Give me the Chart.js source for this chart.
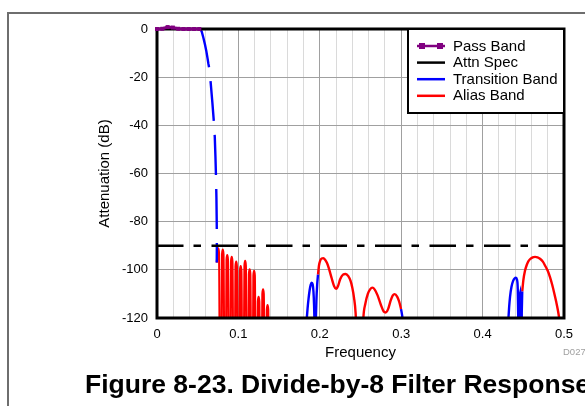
<!DOCTYPE html>
<html><head><meta charset="utf-8">
<script src="https://cdn.jsdelivr.net/npm/chart.js@4.4.1/dist/chart.umd.min.js"></script>
<style>
html,body{margin:0;padding:0;background:#fff;}
#wrap{position:relative;width:585px;height:406px;overflow:hidden;background:#fff;font-family:'Liberation Sans',Arial,sans-serif;}
#frame{position:absolute;left:7px;top:12px;width:700px;height:500px;border-left:2px solid #6e6e6e;border-top:2px solid #6e6e6e;}
canvas{position:absolute;left:0;top:0;}
#caption{position:absolute;left:85px;top:371px;font-weight:bold;font-size:26.5px;line-height:26.5px;white-space:nowrap;color:#000;}
#code{position:absolute;left:563px;top:347px;font-size:9.5px;line-height:10px;color:#a0a0a0;white-space:nowrap;}
</style></head><body>
<div id="wrap"><div id="frame"></div><canvas id="c" width="585" height="406"></canvas>
<div id="code">D027</div><div id="caption">Figure 8-23. Divide-by-8 Filter Response</div></div>
<script>
// ---- data ----
const seriesNames = ['Pass Band', 'Attn Spec', 'Transition Band', 'Alias Band'];
const seriesColors = ['#800080', '#000000', '#0000ff', '#ff0000'];
const xTickValues = [0, 0.1, 0.2, 0.3, 0.4, 0.5];
const xTickLabels = ['0', '0.1', '0.2', '0.3', '0.4', '0.5'];
const yTickValues = [0, -20, -40, -60, -80, -100, -120];
const yTickLabels = ['0', '-20', '-40', '-60', '-80', '-100', '-120'];

const passFreq = [0, 0.0065, 0.013, 0.0195, 0.026, 0.0325, 0.039, 0.0455, 0.052];
const passDb = [0, 0.1, 0.8, 0.6, 0.1, 0, 0, 0, 0];

const specFreq = [0, 0.5];
const specDb = [-90, -90];

const transFreq = [0.0520, 0.0535, 0.0549, 0.0569, 0.0590, 0.0605, 0.0620, 0.0632, 0.0643, 0.0660, 0.0680, 0.0700, 0.0710, 0.0718, 0.0725, 0.0730, 0.0733, 0.0735, 0.0735, 0.0734];
const transDb = [0, -0.3, -1, -3.5, -6.5, -9, -12, -14.5, -16.5, -22.5, -30.5, -39.2, -45, -53, -61.5, -70, -78, -85, -91, -97];

const transB1Freq = [0.1838, 0.1850, 0.1862, 0.1875, 0.1888, 0.1900, 0.1912, 0.1922, 0.1930, 0.1937];
const transB1Db = [-121, -116, -112, -108.5, -106.2, -105.3, -106, -109, -115, -125];
const transB2Freq = [0.1948, 0.1958, 0.1968, 0.1978];
const transB2Db = [-125, -113, -106, -102];
const transB3Freq = [0.2998, 0.3012, 0.3025];
const transB3Db = [-116.3, -119, -123];
const transC1Freq = [0.4316, 0.4326, 0.4337, 0.4355, 0.4375, 0.4395, 0.4410, 0.4422, 0.4432, 0.4440];
const transC1Db = [-121, -115.5, -111.2, -107, -104.6, -103.5, -103.3, -104, -108, -125];
const transC2Freq = [0.4450, 0.4455, 0.4462, 0.4470, 0.4475, 0.4481, 0.4487];
const transC2Db = [-130, -110.5, -109.5, -113, -130, -118, -109];

const aliasAFreq = [0.0734, 0.0744, 0.0753, 0.0762, 0.07805,
  0.0799, 0.0808, 0.0817, 0.08355,
  0.0854, 0.0863, 0.0872, 0.08905,
  0.0909, 0.0918, 0.0927, 0.09455,
  0.0964, 0.0973, 0.0982, 0.10005,
  0.1019, 0.1028, 0.1037, 0.10555,
  0.1074, 0.1083, 0.1092, 0.11105,
  0.1129, 0.1138, 0.1147, 0.11655,
  0.1184, 0.1193, 0.1202, 0.12205,
  0.1239, 0.1248, 0.1257, 0.12755,
  0.1294, 0.1303, 0.1312, 0.13305,
  0.1349, 0.1358, 0.1367, 0.13855];
const aliasADb = [-97, -93.1, -91.1, -93.1, -200,
  -93.6, -91.6, -93.6, -200,
  -95.9, -93.9, -95.9, -200,
  -96.6, -94.6, -96.6, -200,
  -98.6, -96.6, -98.6, -200,
  -100.4, -98.4, -100.4, -200,
  -98.3, -96.3, -98.3, -200,
  -101.8, -99.8, -101.8, -200,
  -102.4, -100.4, -102.4, -200,
  -113.2, -111.2, -113.2, -200,
  -110.1, -108.1, -110.1, -200,
  -116.6, -114.6, -116.6, -200];

const aliasBFreq = [0.1978, 0.1990, 0.2005, 0.2022, 0.2043, 0.2065, 0.2090, 0.2115, 0.2146, 0.2175, 0.2200, 0.2225, 0.2250, 0.2285, 0.2318, 0.2350, 0.2378, 0.2400, 0.2420, 0.2440, 0.2490, 0.2535, 0.2560, 0.2590, 0.2620, 0.2645, 0.2675, 0.2710, 0.2750, 0.2785, 0.2810, 0.2840, 0.2870, 0.2895, 0.2920, 0.2950, 0.2975, 0.2998];
const aliasBDb = [-102, -98.2, -96.2, -95.3, -95.2, -95.8, -97.3, -99.8, -103.5, -106.7, -107.9, -106.6, -103.9, -102, -101.7, -102.6, -104.6, -107.5, -111.5, -118, -160, -120, -114, -110, -108, -107.4, -108.2, -110.6, -114.5, -117.3, -117.7, -116.2, -112.8, -110.7, -110.1, -111.1, -113.2, -116.3];

const aliasCFreq = [0.4487, 0.4500, 0.4520, 0.4542, 0.4560, 0.4582, 0.4615, 0.4644, 0.4675, 0.4705, 0.4740, 0.4767, 0.4800, 0.4828, 0.4855, 0.4881, 0.4905, 0.4925, 0.4940, 0.4952];
const aliasCDb = [-109, -104.5, -100.5, -98, -96.6, -95.6, -94.8, -94.6, -94.8, -95.4, -96.6, -98.2, -100.4, -103, -106.2, -109.8, -113.4, -116.8, -120, -124];

// ---- chart ----
const FONT = "'Liberation Sans', Arial, sans-serif";
Chart.defaults.font.family = FONT;
const pts = (xs, ys) => xs.map((x, i) => ({x: x, y: ys[i]}));

function curve(xs, ys, color, extra) {
  return Object.assign({
    data: pts(xs, ys), borderColor: color, backgroundColor: color,
    borderWidth: 2.4, pointRadius: 0, fill: false, clip: 0,
    cubicInterpolationMode: 'monotone'
  }, extra || {});
}

const blue = seriesColors[2], red = seriesColors[3];
const datasets = [
  {label: seriesNames[0], data: pts(passFreq, passDb), borderColor: seriesColors[0], backgroundColor: seriesColors[0],
   borderWidth: 3, pointStyle: 'rect', pointRadius: 2.8, pointBorderWidth: 0, clip: false},
  curve(specFreq, specDb, seriesColors[1], {label: seriesNames[1], borderDash: [26.5, 10, 7.5, 10.5], borderWidth: 2.5, cubicInterpolationMode: 'default'}),
  curve(transFreq, transDb, blue, {label: seriesNames[2], borderDash: [40, 14], cubicInterpolationMode: 'default'}),
  curve(transB1Freq, transB1Db, blue),
  curve(transB2Freq, transB2Db, blue),
  curve(transB3Freq, transB3Db, blue),
  curve(transC1Freq, transC1Db, blue),
  curve(transC2Freq, transC2Db, blue, {cubicInterpolationMode: 'default'}),
  curve(aliasAFreq, aliasADb, red, {label: seriesNames[3], borderWidth: 2.1}),
  curve(aliasBFreq, aliasBDb, red),
  curve(aliasCFreq, aliasCDb, red)
];

const isMajorX = v => xTickValues.some(t => Math.abs(t - v) < 1e-9);

const boxAndLegend = {
  id: 'boxAndLegend',
  beforeDatasetDraw(chart, args) {
    if (args.index !== 0) return;
    const a = chart.chartArea, ctx = chart.ctx;
    ctx.save();
    ctx.strokeStyle = '#000'; ctx.lineWidth = 3;
    ctx.strokeRect(a.left, a.top, a.right - a.left, a.bottom - a.top);
    ctx.restore();
  },
  afterDraw(chart) {
    const a = chart.chartArea, ctx = chart.ctx;
    const w = 156, h = 84, L = a.right - w, T = a.top;
    ctx.save();
    ctx.fillStyle = '#fff'; ctx.fillRect(L, T, w, h);
    ctx.strokeStyle = '#000'; ctx.lineWidth = 2; ctx.strokeRect(L, T, w, h);
    ctx.font = '15px ' + FONT; ctx.textBaseline = 'middle'; ctx.textAlign = 'left';
    seriesNames.forEach((name, i) => {
      const y = T + 17 + i * 16.6;
      ctx.strokeStyle = seriesColors[i]; ctx.lineWidth = 2.5;
      ctx.beginPath(); ctx.moveTo(L + 9, y); ctx.lineTo(L + 37, y); ctx.stroke();
      if (i === 0) {
        ctx.fillStyle = seriesColors[0];
        ctx.fillRect(L + 11, y - 3, 6, 6);
        ctx.fillRect(L + 29, y - 3, 6, 6);
      }
      ctx.fillStyle = '#000';
      ctx.fillText(name, L + 45, y + 0.5);
    });
    ctx.restore();
  }
};

new Chart(document.getElementById('c'), {
  type: 'line',
  data: {datasets: datasets},
  options: {
    responsive: false, animation: false, events: [],
    layout: {padding: {top: 29, right: 21, bottom: 0, left: 0}},
    plugins: {legend: {display: false}, tooltip: {enabled: false}},
    scales: {
      x: {
        type: 'linear', min: 0, max: 0.5,
        afterFit: s => { s.height = 88; },
        border: {display: false},
        grid: {drawTicks: false, lineWidth: 1,
               color: c => isMajorX(c.tick.value) ? '#a0a0a0' : '#dadada'},
        ticks: {stepSize: 0.02, autoSkip: false, maxRotation: 0, padding: 9, color: '#000',
                font: {size: 13},
                callback: v => { const i = xTickValues.findIndex(t => Math.abs(t - v) < 1e-9); return i >= 0 ? xTickLabels[i] : ''; }},
        title: {display: true, text: 'Frequency', color: '#000', font: {size: 15}, padding: {top: 0, bottom: 44}}
      },
      y: {
        type: 'linear', min: -120, max: 0,
        afterFit: s => { s.width = 157; },
        border: {display: false},
        grid: {drawTicks: false, lineWidth: 1, color: '#a0a0a0'},
        ticks: {stepSize: 20, padding: 9, color: '#000', font: {size: 13},
                callback: v => { const i = yTickValues.findIndex(t => Math.abs(t - v) < 1e-9); return i >= 0 ? yTickLabels[i] : ''; }},
        title: {display: true, text: 'Attenuation (dB)', color: '#000', font: {size: 15}, padding: {top: 95.5, bottom: 0}}
      }
    }
  },
  plugins: [boxAndLegend]
});
</script>
</body></html>
